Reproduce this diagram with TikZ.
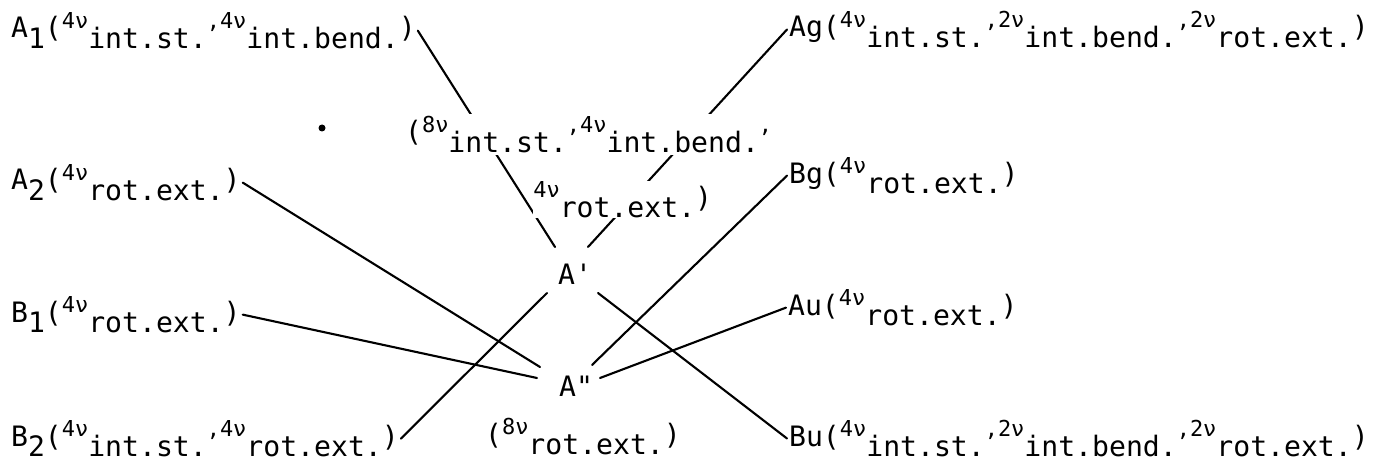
\documentclass[tikz,border=0pt]{standalone}
\usepackage{fontspec}
\setmonofont{DejaVu Sans Mono}
\usetikzlibrary{positioning}
\newcommand{\sps}[1]{\raisebox{5.5pt}{\fontsize{12.5}{12.5}\selectfont #1}}
\newcommand{\sbs}[1]{\raisebox{-6pt}{#1}}

\begin{document}
\begin{tikzpicture}[x=0.02cm, y=-0.02cm,
  lbl/.style={font=\fontsize{16}{19}\selectfont\ttfamily, inner sep=1pt, anchor=base west},
  hub/.style={font=\fontsize{16}{19}\selectfont\ttfamily, inner sep=1pt},
  link/.style={line width=1.2pt, line cap=round}
]
\useasboundingbox (0,0) rectangle (1373,466);

% left column: species of the free molecule
\node[lbl] (A1) at (9,38)  {A\sbs{1}(\sps{4ν}\sbs{int.st.}\sps{,4ν}\sbs{int.bend.})};
\node[lbl] (A2) at (9,190) {A\sbs{2}(\sps{4ν}\sbs{rot.ext.})};
\node[lbl] (B1) at (9,322) {B\sbs{1}(\sps{4ν}\sbs{rot.ext.})};
\node[lbl] (B2) at (9,446) {B\sbs{2}(\sps{4ν}\sbs{int.st.}\sps{,4ν}\sbs{rot.ext.})};

% right column: factor group
\node[lbl] (Ag) at (787,37)  {Ag(\sps{4ν}\sbs{int.st.}\sps{,2ν}\sbs{int.bend.}\sps{,2ν}\sbs{rot.ext.})};
\node[lbl] (Bg) at (787,183) {Bg(\sps{4ν}\sbs{rot.ext.})};
\node[lbl] (Au) at (786,315) {Au(\sps{4ν}\sbs{rot.ext.})};
\node[lbl] (Bu) at (787,446) {Bu(\sps{4ν}\sbs{int.st.}\sps{,2ν}\sbs{int.bend.}\sps{,2ν}\sbs{rot.ext.})};

% site group
\node[hub] (Ap)  at (575,274) {A'};
\node[hub] (App) at (576,386) {A"};

% correlation lines
\foreach \s/\t/\dx/\dy in {A1.east/Ap/-20/-27, B2.east/Ap/-28/19,
    Ag.west/Ap/13/-27, Bu.west/Ap/23/19, A2.east/App/-36/-19,
    B1.east/App/-39/-8, Bg.west/App/16/-21, Au.west/App/24/-8}
  \draw[link] (\s) -- ([shift={(\dx,\dy)}]\t.center);

% site counts (over the lines)
\node[lbl, fill=white] (Cst) at (403,142) {(\sps{8ν}\sbs{int.st.}\sps{,4ν}\sbs{int.bend.}\sps{,}};
\node[lbl, fill=white, inner sep=0pt] (Crot) at (533,207) {\sps{4ν}\sbs{rot.ext.})};
\node[lbl] (Cext) at (483,444) {(\sps{8ν}\sbs{rot.ext.})};
\fill (322,128) circle (3.5);
\end{tikzpicture}
\end{document}
